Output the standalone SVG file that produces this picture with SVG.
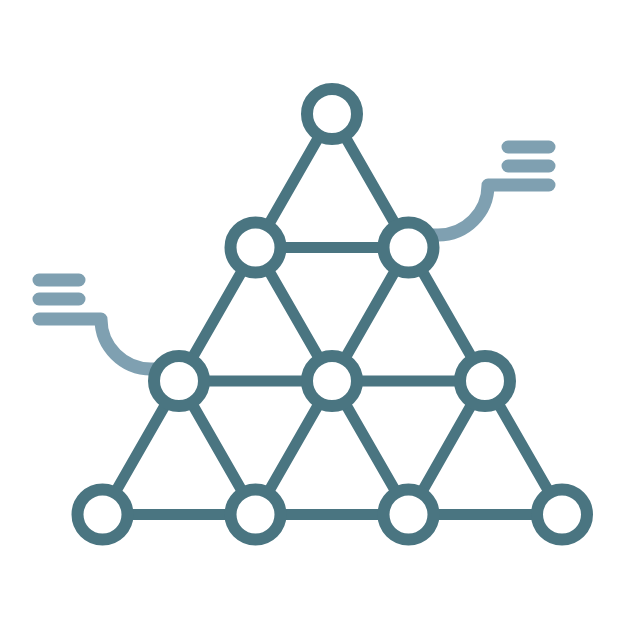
<svg xmlns="http://www.w3.org/2000/svg" width="626" height="626" viewBox="0 0 626 626">
<style>
.edge{stroke:#4a7581;stroke-width:11;stroke-linecap:round;fill:none}
.node{fill:#ffffff;stroke:#4a7581;stroke-width:12}
.call{stroke:#7fa0b1;stroke-width:13;stroke-linecap:round;stroke-linejoin:round;fill:none}
</style>
<rect width="626" height="626" fill="#ffffff"/>
<g id="callouts">
<path class="call" d="M39 280 H79 M39 299 H79 M39 319 H101 A50 50 0 0 0 151 369 H165"/>
<path class="call" d="M508 147 H549 M508 166 H549 M549 185 H488 A50 50 0 0 1 438 235 H425"/>
</g>
<g id="connectors">
<path class="edge" d="M332 114 L102.5 514.5 M332 114 L562 514.5 M255.5 247.5 L408.5 247.5 M179 381 L485 381 M102.5 514.5 L562 514.5 M255.5 247.5 L409 514.5 M408.5 247.5 L255.5 514.5 M179 381 L255.5 514.5 M485 381 L409 514.5"/>
</g>
<g id="n1"><circle class="node" cx="332" cy="114" r="25"/></g>
<g id="n2"><circle class="node" cx="255.5" cy="247.5" r="25"/></g>
<g id="n3"><circle class="node" cx="408.5" cy="247.5" r="25"/></g>
<g id="n4"><circle class="node" cx="179" cy="381" r="25"/></g>
<g id="n5"><circle class="node" cx="332" cy="381" r="25"/></g>
<g id="n6"><circle class="node" cx="485" cy="381" r="25"/></g>
<g id="n7"><circle class="node" cx="102.5" cy="514.5" r="25"/></g>
<g id="n8"><circle class="node" cx="255.5" cy="514.5" r="25"/></g>
<g id="n9"><circle class="node" cx="408.5" cy="514.5" r="25"/></g>
<g id="n10"><circle class="node" cx="562" cy="514.5" r="25"/></g>
</svg>
